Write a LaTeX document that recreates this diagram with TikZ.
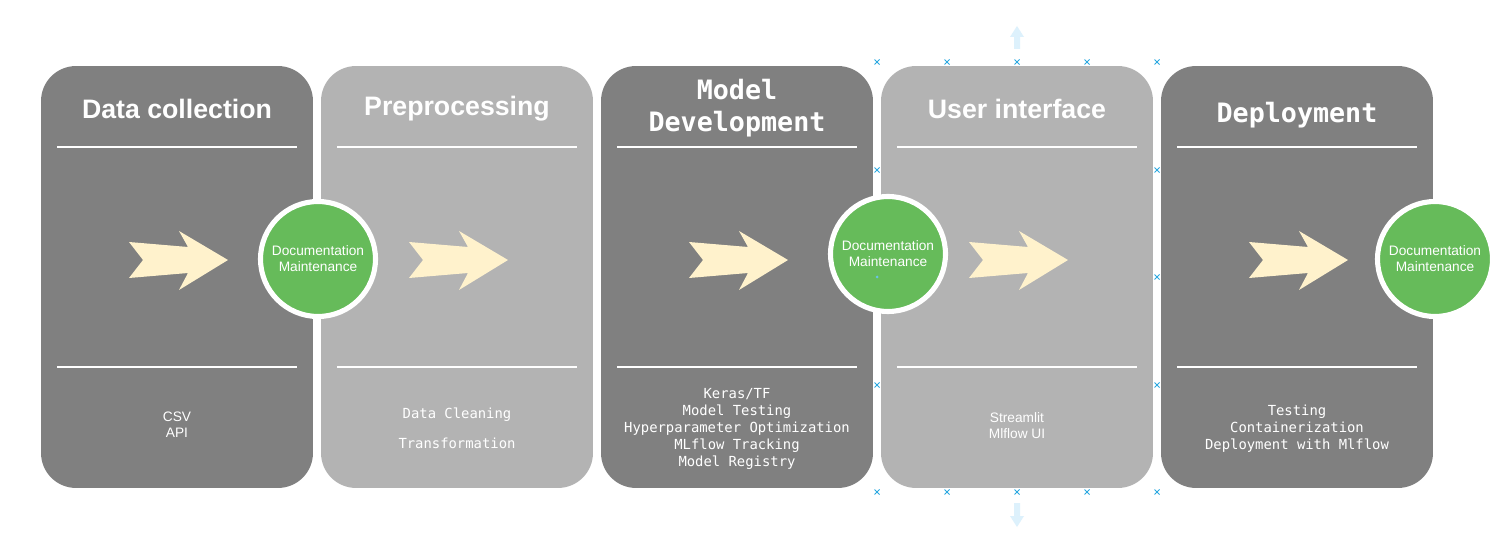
\documentclass[tikz,border=0pt]{standalone}
\usepackage{fontspec}
\setmainfont{Liberation Sans}
\setsansfont{Liberation Sans}
\setmonofont{DejaVu Sans Mono}
\definecolor{dk}{HTML}{808080}
\definecolor{lt}{HTML}{B3B3B3}
\definecolor{grn}{HTML}{66BB5A}
\definecolor{cream}{HTML}{FFF2CC}
\definecolor{hdl}{HTML}{29A8E0}
\definecolor{ghost}{HTML}{DDF1FC}
\tikzset{
  stage/.style={rectangle, rounded corners=0.7cm, minimum width=5.44cm, minimum height=8.44cm, inner sep=0pt, draw=none},
  doc/.style={circle, fill=grn, draw=white, line width=2.9pt, minimum size=2.3cm, inner sep=0pt, align=center, text=white, font=\fontsize{7.8}{9.07}\selectfont},
  ttl/.style={text=white, align=center, font=\bfseries\fontsize{15.2}{18.1}\selectfont},
  mttl/.style={text=white, align=center, font=\ttfamily\bfseries\fontsize{15.2}{18.1}\selectfont},
  sbody/.style={text=white, align=center, font=\fontsize{7.8}{9.07}\selectfont},
  mbody/.style={text=white, align=center, font=\ttfamily\fontsize{7.9}{9.64}\selectfont},
  sep/.style={white, line width=1.2pt},
  chev/.pic={\fill[cream] (-99,-18) -- (-40,-13) -- (-49,-29) -- (0,0) -- (-49,30) -- (-40,13) -- (-99,18) -- (-85,0) -- cycle;},
  hx/.pic={\draw[hdl, line width=0.5pt] (-2.5,-2.5) -- (2.5,2.5) (-2.5,2.5) -- (2.5,-2.5);}
}
\begin{document}
\begin{tikzpicture}[x=0.02cm, y=-0.02cm]
\useasboundingbox[fill=white] (0,0) rectangle (1509,557);

% stage boxes
\node[stage, fill=dk] (b1) at (177,277) {};
\node[stage, fill=lt] (b2) at (457,277) {};
\node[stage, fill=dk] (b3) at (737,277) {};
\node[stage, fill=lt] (b4) at (1017,277) {};
\node[stage, fill=dk] (b5) at (1297,277) {};

% separator lines
\foreach \cx in {177,457,737,1017,1297}{
  \draw[sep] (\cx-120,147) -- (\cx+120,147);
  \draw[sep] (\cx-120,367) -- (\cx+120,367);
}

% titles
\node[ttl] (t1) at (177,109) {Data collection};
\node[ttl] (t2) at (457,109) {Preprocessing};
\node[mttl] (t3) at (737,108) {Model\\Development};
\node[ttl] (t4) at (1017,109) {User interface};
\node[mttl] (t5) at (1297,115) {Deployment};

% arrows
\pic at (228,260) {chev};
\pic at (508,260) {chev};
\pic at (788,260) {chev};
\pic at (1068,260) {chev};
\pic at (1348,260) {chev};

% bottom texts
\node[sbody] (l1) at (177,425) {CSV\\API};
\node[mbody] (l2) at (457,428) {Data Cleaning\\[7.4pt]Transformation};
\node[mbody] (l3) at (737,429) {Keras/TF\\Model Testing\\Hyperparameter Optimization\\MLflow Tracking\\Model Registry};
\node[sbody] (l4) at (1017,426) {Streamlit\\Mlflow UI};
\node[mbody] (l5) at (1297,429) {Testing\\Containerization\\Deployment with Mlflow};

% documentation circles
\node[doc] (c1) at (318,259) {Documentation\\Maintenance};
\node[doc] (c2) at (888,254) {Documentation\\Maintenance};
\node[doc] (c3) at (1435,259) {Documentation\\Maintenance};

% selection handles
\foreach \hxx in {877,947,1017,1087,1157}{
  \pic at (\hxx,62) {hx};
  \pic at (\hxx,492) {hx};
}
\foreach \hyy in {170,385}{
  \pic at (877,\hyy) {hx};
  \pic at (1157,\hyy) {hx};
}
\pic at (1157,277) {hx};
\fill[hdl!70] (877,277) circle (1.5);

% ghost arrows
\fill[ghost] (1014,49) -- (1014,37) -- (1010,37) -- (1017,26) -- (1024,37) -- (1020,37) -- (1020,49) -- cycle;
\fill[ghost] (1014,503) -- (1014,516) -- (1010,516) -- (1017,527) -- (1024,516) -- (1020,516) -- (1020,503) -- cycle;
\end{tikzpicture}
\end{document}
